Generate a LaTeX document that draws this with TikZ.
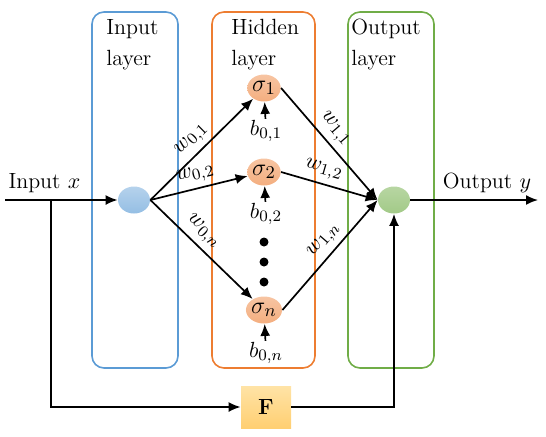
\documentclass[tikz,border=0pt]{standalone}
\usepackage{amsmath, amssymb}
\usepackage{tikz}
\usetikzlibrary{shapes.geometric, arrows.meta, positioning, calc}
\definecolor{inblue}{HTML}{5B9BD5}
\definecolor{hidorange}{HTML}{ED7D31}
\definecolor{outgreen}{HTML}{70AD47}
\definecolor{ftop}{HTML}{FFE3A6}
\definecolor{fbottom}{HTML}{FFCF72}
\tikzset{
    layerbox/.style={line width=0.8pt, rounded corners=6pt},
    layerlabel/.style={anchor=north west, align=left, inner sep=0pt, font=\fontsize{11}{15.5}\selectfont},
    neuron/.style={ellipse, inner sep=0pt, minimum width=16pt, minimum height=13.5pt, font=\fontsize{12.5}{14}\selectfont},
    arrow/.style={line width=0.85pt, -{Latex[length=6pt, width=5pt]}},
    wlabel/.style={sloped, above, inner sep=2.5pt, font=\fontsize{11}{13}\selectfont},
    blabel/.style={inner sep=0.5pt, font=\fontsize{11}{13}\selectfont},
    dot/.style={circle, fill=black, inner sep=0pt, minimum size=4.5pt}
}

\begin{document}
\begin{tikzpicture}[x=0.5pt, y=-0.5pt, font=\fontsize{11}{13}\selectfont]
            \useasboundingbox (0,0) rectangle (546,436);
            % layer boxes
            \draw[layerbox, inblue] (92,12) rectangle (178,368);
            \draw[layerbox, hidorange] (212,12) rectangle (315,368);
            \draw[layerbox, outgreen] (348,12) rectangle (434,368);
            \node[layerlabel] (inlab) at (106,19) {Input\\layer};
            \node[layerlabel] (hidlab) at (231,19) {Hidden\\layer};
            \node[layerlabel] (outlab) at (351,19) {Output\\layer};
            % neurons
            \node[neuron, top color=inblue!45, bottom color=inblue!65] (in) at (134,200) {};
            \node[neuron, top color=hidorange!45, bottom color=hidorange!62] (s1) at (264,88) {$\sigma_1$};
            \node[neuron, top color=hidorange!45, bottom color=hidorange!62] (s2) at (264,172) {$\sigma_2$};
            \node[neuron, top color=hidorange!45, bottom color=hidorange!62] (sn) at (264,310) {$\sigma_n$};
            \node[neuron, top color=outgreen!50, bottom color=outgreen!65] (out) at (394,200) {};
            \node[dot] (d1) at (264,242) {};
            \node[dot] (d2) at (264,262) {};
            \node[dot] (d3) at (264,282) {};
            % biases
            \node[blabel] (b1) at (266,131) {$b_{0,1}$};
            \node[blabel] (b2) at (266,214) {$b_{0,2}$};
            \node[blabel] (bn) at (266,353) {$b_{0,n}$};
            \draw[arrow] (b1) -- (s1);
            \draw[arrow] (b2) -- (s2);
            \draw[arrow] (bn) -- (sn);
            % weights
            \draw[arrow] (in.east) -- node[wlabel] {$w_{0,1}$} (s1);
            \draw[arrow] (in.east) -- node[wlabel, pos=0.5] {$w_{0,2}$} (s2);
            \draw[arrow] (in.east) -- node[wlabel, pos=0.42] {$w_{0,n}$} (sn);
            \draw[arrow] (s1.east) -- node[wlabel, pos=0.45] {$w_{1,1}$} (out.west);
            \draw[arrow] (s2.east) -- node[wlabel, pos=0.4] {$w_{1,2}$} (out.west);
            \draw[arrow] (sn.east) -- node[wlabel, pos=0.55] {$w_{1,n}$} (out.west);
            % input and output
            \coordinate (start) at (5,200);
            \coordinate (split) at (51,200);
            \coordinate (end) at (538,200);
            \draw[arrow] (start) -- node[above, pos=0.35] (xlab) {Input $x$} (in);
            \draw[arrow] (out) -- node[above, pos=0.6] (ylab) {Output $y$} (end);
            % shortcut through F
            \node[top color=ftop, bottom color=fbottom, minimum width=25pt, minimum height=21pt] (F) at (266,407) {\textbf{F}};
            \draw[arrow] (split) |- (F);
            \draw[arrow] (F) -| (out);
        \end{tikzpicture}
\end{document}
